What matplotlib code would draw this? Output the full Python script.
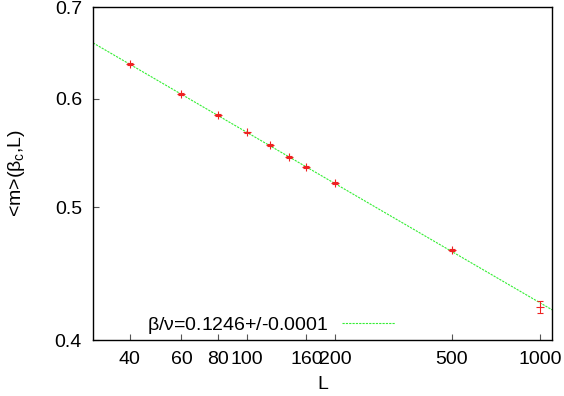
import numpy as np
import matplotlib
matplotlib.use("Agg")
import matplotlib.pyplot as plt

# data
L = [40, 60, 80, 100, 120, 140, 160, 200, 500, 1000]
m = [0.636, 0.605, 0.584, 0.567, 0.555, 0.544, 0.535, 0.521, 0.465, 0.423]
m_err = [0.0008, 0.0008, 0.0007, 0.0008, 0.0007, 0.0007, 0.0007, 0.0008, 0.0008, 0.0042]

fit_amp = 1.007
fit_exp = 0.1246
fit_label = r"$\beta/\nu$=0.1246+/-0.0001"

x_ticks = [40, 60, 80, 100, 160, 200, 500, 1000]
y_ticks = [0.4, 0.5, 0.6, 0.7]

plt.rcParams['font.family'] = ['Liberation Sans', 'DejaVu Sans']
plt.rcParams['mathtext.fontset'] = 'custom'
plt.rcParams['mathtext.rm'] = 'Liberation Sans'
plt.rcParams['mathtext.it'] = 'Liberation Sans'

fs = 14

fig = plt.figure(figsize=(5.64, 3.96), dpi=100)
ax = fig.add_axes([0.165, 0.1414, 0.814, 0.8406])

xfit = np.geomspace(30, 1100, 200)
ax.plot(xfit, fit_amp * xfit ** (-fit_exp), color='#33ee33', lw=0.8,
        dashes=(2, 1), label=fit_label)
ax.errorbar(L, m, yerr=m_err, fmt='+', color='#ee2222', ms=6, mew=0.8,
            elinewidth=0.7, capsize=2.5, capthick=0.7)

ax.set_xscale('log')
ax.set_yscale('log')
ax.set_xlim(30, 1100)
ax.set_ylim(0.4, 0.7)
ax.set_xticks(x_ticks)
ax.set_xticklabels([str(t) for t in x_ticks])
ax.set_yticks(y_ticks)
ax.set_yticklabels([str(t) for t in y_ticks])
ax.minorticks_off()
ax.tick_params(direction='in', length=4, width=0.8, labelsize=fs, pad=8,
               color='#555555')
for s in ax.spines.values():
    s.set_linewidth(1.0)

ax.set_xlabel('L', fontsize=fs, labelpad=6)
ax.set_ylabel(r'<m>($\beta_c$,L)', fontsize=fs, labelpad=20)

leg = ax.legend(loc='lower left', bbox_to_anchor=(0.079, -0.04), frameon=False,
                fontsize=fs, markerfirst=False, handlelength=2.75,
                handletextpad=0.7)

fig.savefig('out.png', dpi=100)
